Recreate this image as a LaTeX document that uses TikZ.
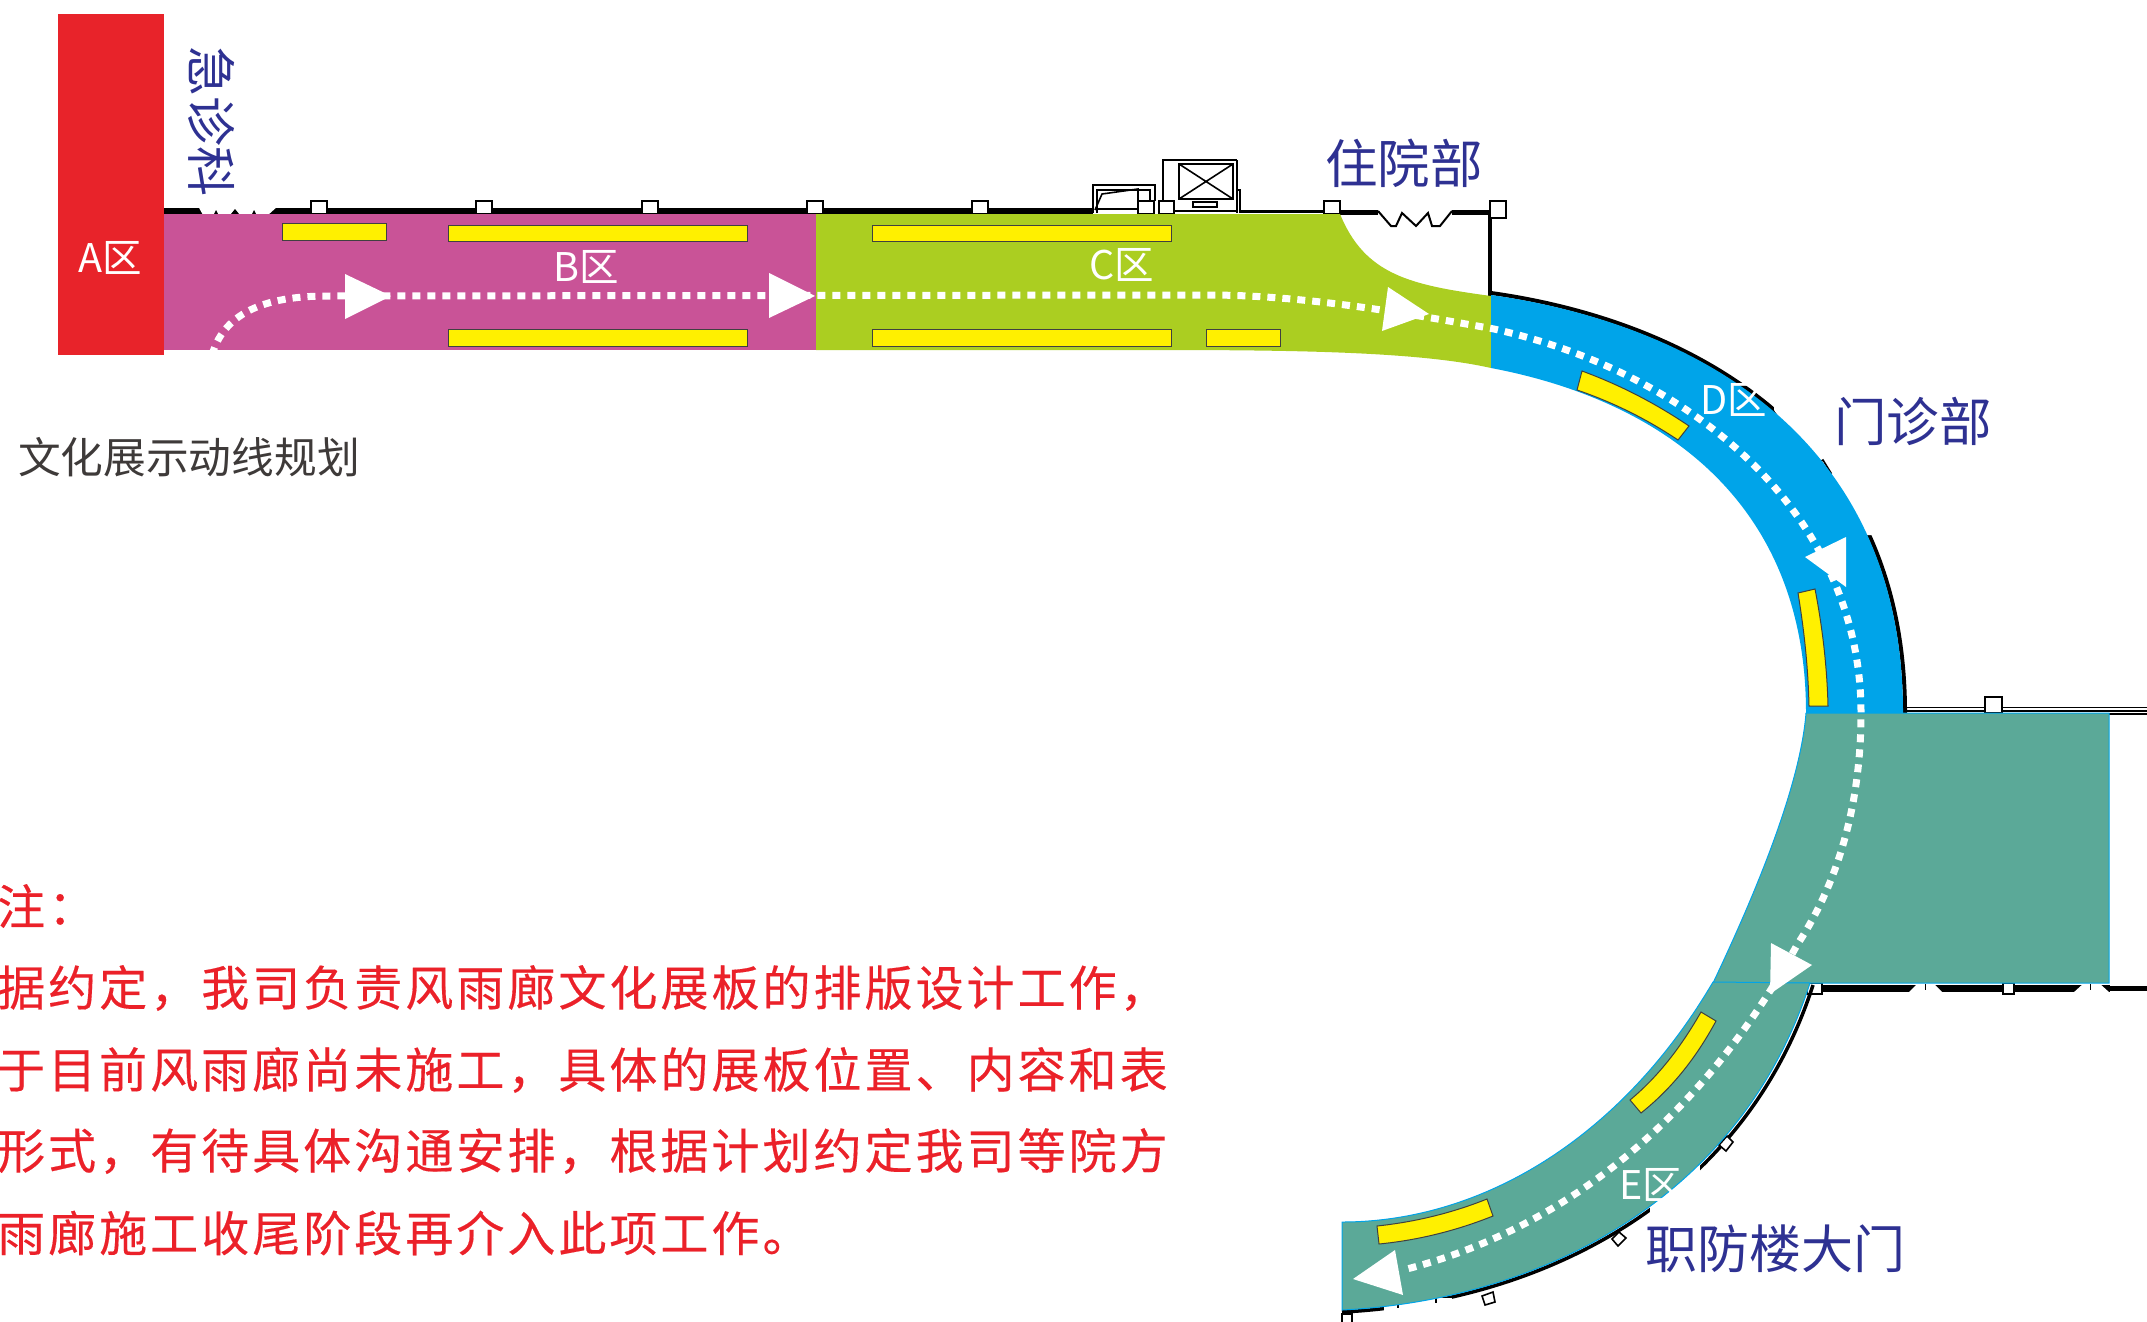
\documentclass[tikz,border=0pt]{standalone}
\usepackage{fontspec}
\setmainfont{Noto Sans CJK SC}
\newfontfamily\notefont[LetterSpace=6.3,FakeBold=0.3]{Noto Sans CJK SC}
\definecolor{zonea}{HTML}{E8232A}
\definecolor{zoneb}{HTML}{C95397}
\definecolor{zonec}{HTML}{ABCE21}
\definecolor{zoned}{HTML}{00A4E9}
\definecolor{zonee}{HTML}{5BA998}
\definecolor{panel}{HTML}{FFF000}
\definecolor{place}{HTML}{2E3192}
\definecolor{titlec}{HTML}{3E3A39}
\definecolor{notec}{HTML}{EB2129}
\tikzset{
  panelbox/.style={fill=panel,draw=black!75,line width=1pt},
  post/.style={fill=white,draw=black,line width=1.6pt},
  wallthick/.style={draw=black,line width=6pt},
  wallthin/.style={draw=black,line width=1.6pt},
  route/.style={draw=white,line width=7pt,dash pattern=on 8pt off 7pt},
  head/.style={fill=white},
  placelabel/.style={text=place,inner sep=0pt,font=\fontsize{52.5}{52.5}\selectfont},
  zonelabel/.style={text=white,inner sep=0pt,font=\fontsize{39.5}{39.5}\selectfont},
  noteline/.style={text=notec,anchor=west,inner sep=0pt,font=\fontsize{48}{48}\selectfont\notefont},
}
\begin{document}
\begin{tikzpicture}[x=1pt,y=-1pt]
\useasboundingbox (0,0) rectangle (2147,1322);
% walls along the top
\draw[wallthick] (164,211) -- (1093,211);
\fill[white] (198,206) -- (278,206) -- (268,215) -- (203,215) -- cycle;
\fill (214,214) -- (216,210) -- (218,214) -- cycle;
\fill (231,214) -- (235,209) -- (239,214) -- cycle;
\fill (252,214) -- (254,210) -- (256,214) -- cycle;
\foreach \x in {311,476,642,807,972}{\draw[post] (\x,201) rectangle ++(16,13);}
% cabinet units
\draw[wallthin] (1093,213) -- (1093,185) -- (1155,185) -- (1155,201);
\draw[wallthin] (1097,213) -- (1097,190) -- (1150,190) -- (1150,201);
\draw[wallthin] (1095,210) -- (1102,194) -- (1138,189) -- (1138,212);
\draw[wallthin] (1097,209) -- (1138,209);
\draw[post] (1138,201) rectangle (1154,214);
\draw[post] (1159,201) rectangle (1174,214);
\draw[wallthin] (1163,201) -- (1163,160) -- (1237,160);
\draw[wallthin] (1237,190) -- (1240,190) -- (1240,213);
\draw[wallthin] (1237,160) -- (1237,213);
\draw[wallthin] (1174,211) -- (1237,211);
\draw[line width=2pt] (1179,164) rectangle (1233,199);
\draw[line width=1.6pt] (1179,164) -- (1233,199) (1233,164) -- (1179,199);
\draw[line width=1.6pt] (1193,202) rectangle (1217,207);
% wall to the inpatient wing
\draw[line width=3pt] (1240,211) -- (1325,211);
\draw[line width=5pt] (1340,212) -- (1378,212);
\draw[line width=5pt] (1452,212) -- (1490,212);
\draw[line width=2pt] (1378,211) -- (1391,226) -- (1396,226) -- (1402,213) -- (1416,226) -- (1428,213) -- (1432,226) -- (1440,226) -- (1452,211);
\draw[post] (1324,201) rectangle (1340,214);
\draw[line width=4pt] (1490,214) -- (1490,296);
\draw[post] (1490,201) rectangle (1506,218);
% outer wall of the blue bend
\draw[line width=4pt] (1491,293) .. controls (1670,318) and (1905,420) .. (1905,713);
\fill[white] (1774,370) -- (1920,370) -- (1920,535) -- (1860,535) -- (1774,410) -- cycle;
\draw[post] (1820,462) -- (1823,460) -- (1831,473) -- (1828,475) -- cycle;
% wall of the right block
\draw[wallthin] (1903,707.5) -- (2147,707.5) (1903,711) -- (2147,711);
\draw[line width=2.5pt] (2109,714) -- (2147,714);
\draw[post] (1985,697) rectangle (2002,713);
\draw[line width=7pt] (1822,988) -- (2110,988);
\draw[line width=5pt] (2110,988) -- (2147,988);
\fill[white] (1908,993) -- (1918,983) -- (1933,983) -- (1943,993) -- cycle;
\fill[white] (2073,993) -- (2084,983) -- (2099,983) -- (2110,993) -- cycle;
\draw[line width=1pt] (1925,984) -- (1925,990) (2090,984) -- (2090,990);
\draw[post] (1807,983) rectangle (1822,994);
\draw[post] (2003,983) rectangle (2014,994);
% outer wall of the lower bend
\draw[line width=3.5pt] (1813,985) .. controls (1743,1202) and (1541,1302) .. (1342,1312);
\fill[white] (1650,1160) rectangle (1700,1215);
\fill[white] (1384,1298) rectangle (1452,1322);
\draw[line width=1.5pt] (1398,1303) -- (1398,1308) (1436,1298) -- (1436,1303);
\draw[post] (1719,1145) -- (1727,1136) -- (1733,1142) -- (1726,1151) -- cycle;
\draw[post] (1612,1239) -- (1619,1232) -- (1626,1238) -- (1618,1246) -- cycle;
\draw[post] (1482,1296) -- (1493,1292) -- (1495,1302) -- (1485,1305) -- cycle;
\draw[post] (1342,1314) rectangle (1352,1326);
% zones
\fill[zonea] (58,14) rectangle (164,355);
\fill[zoneb] (164,214) rectangle (817,350);
\fill[zonec] (816,214) -- (1340,214) .. controls (1365,275) and (1410,285) .. (1491,296) -- (1491,368) .. controls (1420,352) and (1300,350) .. (1157,350) -- (816,350) -- cycle;
\fill[zoned] (1491,295) .. controls (1670,320) and (1903,420) .. (1903,713) -- (1806,713) .. controls (1806,500) and (1660,400) .. (1491,368) -- cycle;
\filldraw[fill=zonee,draw=zoned,line width=1pt] (1806,713) .. controls (1800,790) and (1750,905) .. (1713,983) -- (2109,983) -- (2109,713) -- cycle;
\filldraw[fill=zonee,draw=zoned,line width=1pt] (1713,982) .. controls (1620,1140) and (1480,1222) .. (1342,1222) -- (1342,1310) .. controls (1540,1300) and (1740,1200) .. (1810,983) -- cycle;
% panels
\draw[panelbox] (282,223) rectangle (386,240);
\draw[panelbox] (448,225) rectangle (747,241);
\draw[panelbox] (448,329) rectangle (747,346);
\draw[panelbox] (872,225) rectangle (1171,241);
\draw[panelbox] (872,329) rectangle (1171,346);
\draw[panelbox] (1206,329) rectangle (1280,346);
\draw[panelbox] (1582,371) .. controls (1620,385) and (1655,403) .. (1689,426) -- (1678,440) .. controls (1645,418) and (1612,402) .. (1577,390) -- cycle;
\draw[panelbox] (1798,593) -- (1815,589) .. controls (1822,625) and (1827,665) .. (1828,706) -- (1809,706) .. controls (1808,665) and (1804,630) .. cycle;
\draw[panelbox] (1701,1012) -- (1716,1021) .. controls (1695,1060) and (1670,1090) .. (1641,1113) -- (1630,1100) .. controls (1660,1075) and (1682,1045) .. cycle;
\draw[panelbox] (1487,1199) -- (1493,1216) .. controls (1458,1230) and (1420,1240) .. (1379,1244) -- (1377,1226) .. controls (1415,1222) and (1452,1213) .. cycle;
% route
\draw[route] (212,355) .. controls (225,310) and (270,296) .. (328,296) -- (1208,295) .. controls (1300,295) and (1400,312) .. (1494,329) .. controls (1700,375) and (1861,520) .. (1861,713) .. controls (1861,800) and (1840,880) .. (1797,945) .. controls (1740,1050) and (1620,1215) .. (1403,1270);
\fill[head] (345,274) -- (391,296) -- (345,319) -- cycle;
\fill[head] (769,273) -- (815,296) -- (769,318) -- cycle;
\fill[head] (1388,287) -- (1429,314) -- (1382,331) -- cycle;
\fill[head] (1846,537) -- (1805,557) -- (1846,587) -- cycle;
\fill[head] (1771,943) -- (1812,965) -- (1770,994) -- cycle;
\fill[head] (1395,1250) -- (1353,1279) -- (1403,1295) -- cycle;
% labels
\node[zonelabel] (la) at (110,258) {A区};
\node[zonelabel] (lb) at (586,267) {B区};
\node[zonelabel] (lc) at (1122,265) {C区};
\node[zonelabel] (ld) at (1734,400) {D区};
\node[zonelabel] (le) at (1651,1185) {E区};
\node[placelabel,rotate=-90,font=\fontsize{50}{50}\selectfont] (emerg) at (212,122) {急诊科};
\node[placelabel] (inpat) at (1404,163) {住院部};
\node[placelabel] (outpat) at (1913,421) {门诊部};
\node[placelabel,font=\fontsize{52}{52}\selectfont] (gate) at (1775,1249) {职防楼大门};
\node[text=titlec,anchor=west,inner sep=0pt,font=\fontsize{42.7}{42.7}\selectfont] (title) at (18,457) {文化展示动线规划};
\node[noteline] (n0) at (-3,906) {注：};
\node[noteline] (n1) at (-3,988) {据约定，我司负责风雨廊文化展板的排版设计工作，};
\node[noteline] (n2) at (-3,1070) {于目前风雨廊尚未施工，具体的展板位置、内容和表};
\node[noteline] (n3) at (-3,1151) {形式，有待具体沟通安排，根据计划约定我司等院方};
\node[noteline] (n4) at (-3,1233) {雨廊施工收尾阶段再介入此项工作。};
\end{tikzpicture}
\end{document}
